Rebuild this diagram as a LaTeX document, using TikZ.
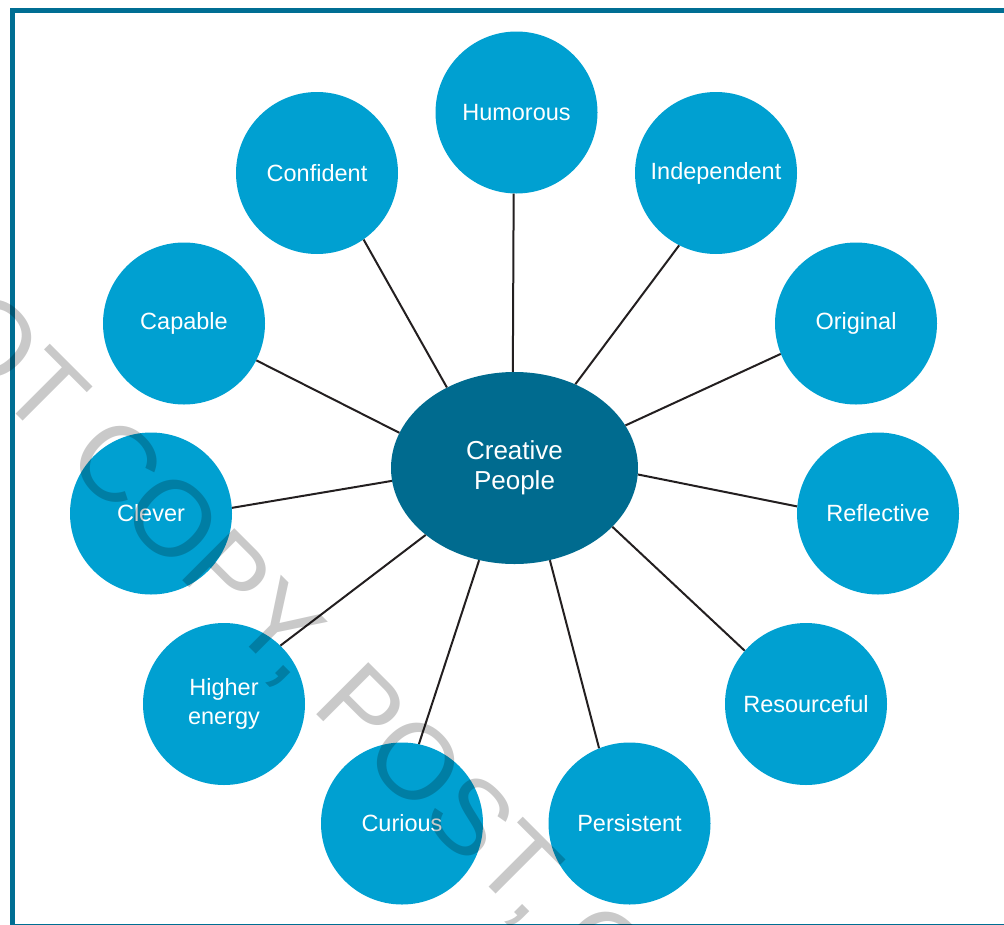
\documentclass[tikz,border=0pt]{standalone}
\usepackage{fontspec}
\setmainfont{Liberation Sans}
\usetikzlibrary{shapes.geometric}
\definecolor{traitcol}{HTML}{00A0D1}
\definecolor{hubcol}{HTML}{006B8F}
\definecolor{framecol}{HTML}{006E93}
\definecolor{linkcol}{HTML}{231F20}
\begin{document}
\begin{tikzpicture}[x=1pt,y=-1pt,
  traitnode/.style={circle, fill=traitcol, minimum size=162pt, inner sep=0pt,
    text=white, font=\fontsize{23.5}{28.5}\selectfont, align=center},
  hubnode/.style={ellipse, fill=hubcol, minimum width=247pt, minimum height=192pt,
    inner sep=0pt, text=white, font=\fontsize{26}{30}\selectfont, align=center},
  linkline/.style={draw=linkcol, line width=2pt},
  framebox/.style={draw=framecol, line width=5.5pt},
  watermark/.style={rotate=-45, anchor=base west, inner sep=0pt,
    font=\fontsize{107}{107}\selectfont, text=black, text opacity=0.21}]
\useasboundingbox (0,0) rectangle (1004,924);
\clip (0,0) rectangle (1004,924);
\draw[framebox] (12.4,10.3) rectangle (1100,926.8);
% hub and traits
\node[hubnode] (cp) at (514.5,468) {Creative\\People};
\node[traitnode] (hum) at (516.5,112.5) {Humorous};
\node[traitnode] (con) at (317,173) {Confident};
\node[traitnode] (ind) at (716,173) {Independent};
\node[traitnode] (cap) at (184,323.5) {Capable};
\node[traitnode] (ori) at (856,323.5) {Original};
\node[traitnode] (cle) at (151,513.5) {Clever};
\node[traitnode] (ref) at (878,513.5) {Reflective};
\node[traitnode] (hig) at (224,704) {Higher\\energy};
\node[traitnode] (res) at (806,704) {Resourceful};
\node[traitnode] (cur) at (402,823.5) {Curious};
\node[traitnode] (per) at (629.5,823.5) {Persistent};
% connectors
\draw[linkline] (cp.91) -- (hum.-92);
\draw[linkline] (cp.130) -- (con.-55);
\draw[linkline] (cp.54) -- (ind.-117);
\draw[linkline] (cp.163) -- (cap.-27.5);
\draw[linkline] (cp.21) -- (ori.-158);
\draw[linkline] (cp.-174.4) -- (cle.4);
\draw[linkline] (cp.-3.2) -- (ref.175.4);
\draw[linkline] (cp.-143.2) -- (hig.46.5);
\draw[linkline] (cp.-31.2) -- (res.139.5);
\draw[linkline] (cp.-111.2) -- (cur.78.5);
\draw[linkline] (cp.-69.8) -- (per.112.6);
% watermark
\node[watermark] (wm) at (-252,146) {DO NOT COPY, POST, OR DISTRIBUTE};
\end{tikzpicture}
\end{document}
